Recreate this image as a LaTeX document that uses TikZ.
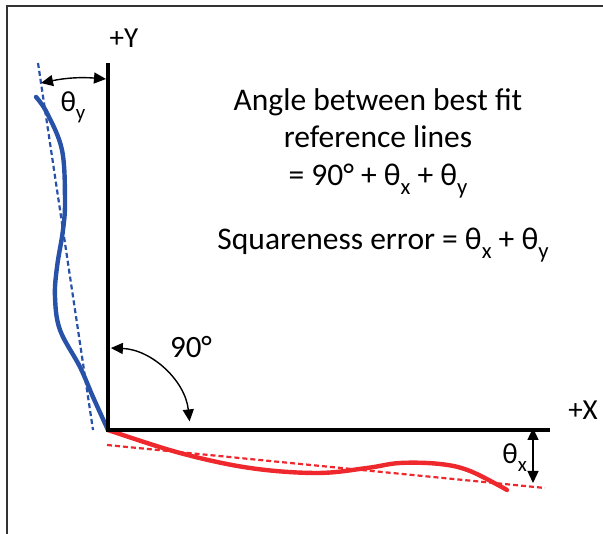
\documentclass[tikz,border=0pt]{standalone}
\usepackage{fontspec}
\setmainfont{Carlito}
\usetikzlibrary{arrows.meta}
\definecolor{fitblue}{RGB}{40,82,168}
\definecolor{fitred}{RGB}{238,40,44}
\newcommand{\lowidx}[1]{\raisebox{-0.28em}{\scalebox{0.72}{#1}}}
\tikzset{
    axis/.style={line width=3.2pt, black},
    profile/.style={line width=4.4pt, line cap=round},
    bestfit/.style={line width=2.2pt, dash pattern=on 5pt off 3pt},
    angarrow/.style={line width=1.4pt, {Triangle[length=12pt,width=11pt]}-{Triangle[length=12pt,width=11pt]}},
    label/.style={font=\fontsize{29}{34}\selectfont, inner sep=0pt}
}
\begin{document}
\begin{tikzpicture}[x=1pt, y=1pt]
                \useasboundingbox (0,0) rectangle (603,534);
                \draw[line width=1.3pt, black!80] (7,0) -- (7,528) -- (603,528);
                \coordinate (O) at (108,104);
                \coordinate (yEnd) at (108,471);
                \coordinate (xEnd) at (550,104);
                % best fit lines
                \draw[bestfit, fitblue] (38,471) coordinate (yFitTop) -- (93,104) coordinate (yFitBot);
                \draw[bestfit, fitred] (107,89) coordinate (xFitLeft) -- (545,46) coordinate (xFitRight);
                % measured profiles
                \draw[profile, fitblue] plot[smooth, tension=0.6] coordinates {(36,437) (47,421) (62,384) (65,334) (63,304) (57,267) (55,237) (60,204) (80,167) (93,137) (108,104)};
                \draw[profile, fitred] plot[smooth, tension=0.6] coordinates {(108,104) (180,81) (250,66) (317,61) (367,66) (400,71) (440,70) (470,63) (507,44)};
                \draw[axis] (yEnd) -- (O) -- (xEnd);
                \node[label] (yLabel) at (124,496) {+Y};
                \node[label] (xLabel) at (583,124) {+X};
                % angles
                \coordinate (thyA) at (41,451);
                \coordinate (thyB) at (106,455);
                \draw[angarrow] (thyA) to[bend left=8] (thyB);
                \node[label] (thyLabel) at (73,427) {θ\lowidx{y}};
                \draw[angarrow] ([shift={(88:82)}]O) arc[start angle=88, end angle=6, radius=82];
                \node[label, font=\fontsize{31}{36}\selectfont] (rightLabel) at (191,187) {90°};
                \coordinate (thxA) at (533,106);
                \coordinate (thxB) at (533,51);
                \draw[angarrow] (thxA) -- (thxB);
                \node[label, anchor=east] (thxLabel) at (527,76) {θ\lowidx{x}};
                % explanation
                \node[font=\fontsize{31.5}{37.5}\selectfont, align=center, inner sep=0pt] (angleText) at (378,391)
                    {Angle between best fit\\reference lines\\= 90° + θ\lowidx{x} + θ\lowidx{y}};
                \node[font=\fontsize{31.5}{37.5}\selectfont, inner sep=0pt] (errorText) at (383,289)
                    {Squareness error = θ\lowidx{x} + θ\lowidx{y}};
\end{tikzpicture}
\end{document}
